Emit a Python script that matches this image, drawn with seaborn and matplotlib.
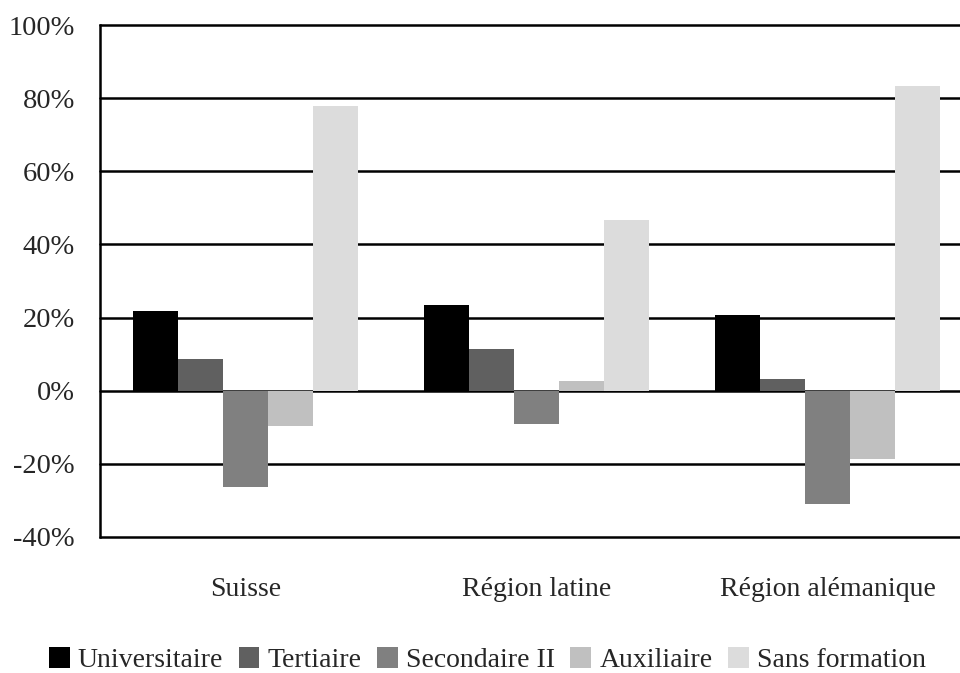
import matplotlib
matplotlib.use("Agg")
import matplotlib.pyplot as plt
import seaborn as sns
import pandas as pd
from matplotlib.ticker import FixedLocator

regions = ["Suisse", "Région latine", "Région alémanique"]
niveaux = ["Universitaire", "Tertiaire", "Secondaire II", "Auxiliaire", "Sans formation"]
universitaire = [21.8, 23.5, 20.7]
tertiaire = [8.6, 11.4, 3.1]
secondaire = [-26.2, -9.1, -31.1]
auxiliaire = [-9.7, 2.6, -18.6]
sans_formation = [77.9, 46.6, 83.4]
yticks = [-40, -20, 0, 20, 40, 60, 80, 100]
colors = ["#000000", "#606060", "#808080", "#c0c0c0", "#dcdcdc"]

series = [universitaire, tertiaire, secondaire, auxiliaire, sans_formation]
rows = []
for niv, vals in zip(niveaux, series):
    for reg, v in zip(regions, vals):
        rows.append({"region": reg, "niveau": niv, "value": v})
df = pd.DataFrame(rows)

sns.set_theme(style="white")
plt.rcParams["font.family"] = ["Liberation Serif", "DejaVu Serif"]

fig = plt.figure(figsize=(9.6, 6.73), dpi=100)
ax_left, ax_w = 100, 873
ax = fig.add_axes([ax_left/960, 1 - 537/673, ax_w/960, 512/673])

sns.barplot(data=df, x="region", y="value", hue="niveau", order=regions,
            hue_order=niveaux, palette=colors, saturation=1, width=0.773,
            ax=ax, zorder=3, linewidth=0)

ax.set_ylim(-40, 100)
ax.yaxis.set_major_locator(FixedLocator(yticks))
ax.set_yticklabels([f"{t}%" for t in yticks])
ax.grid(axis="y", color="black", linewidth=1.8, zorder=0)
ax.set_axisbelow(True)
for line in ax.get_ygridlines():
    line.set_clip_on(False)
for s in ["top", "right", "bottom"]:
    ax.spines[s].set_visible(False)
ax.spines["left"].set_color("black")
ax.spines["left"].set_linewidth(1.8)
ax.tick_params(axis="y", length=0, pad=18, labelsize=20.5)
ax.tick_params(axis="x", length=0, pad=29, labelsize=20)
ax.set_xlabel("")
ax.set_ylabel("")

leg_cx = (487.5 - ax_left) / ax_w
ax.legend(loc="center", bbox_to_anchor=(leg_cx, -(660 - 537)/512), ncol=5,
          frameon=False, fontsize=20, handlelength=0.75, handleheight=0.8,
          handletextpad=0.3, columnspacing=0.55, borderpad=0)

fig.savefig("out.png", dpi=100)
